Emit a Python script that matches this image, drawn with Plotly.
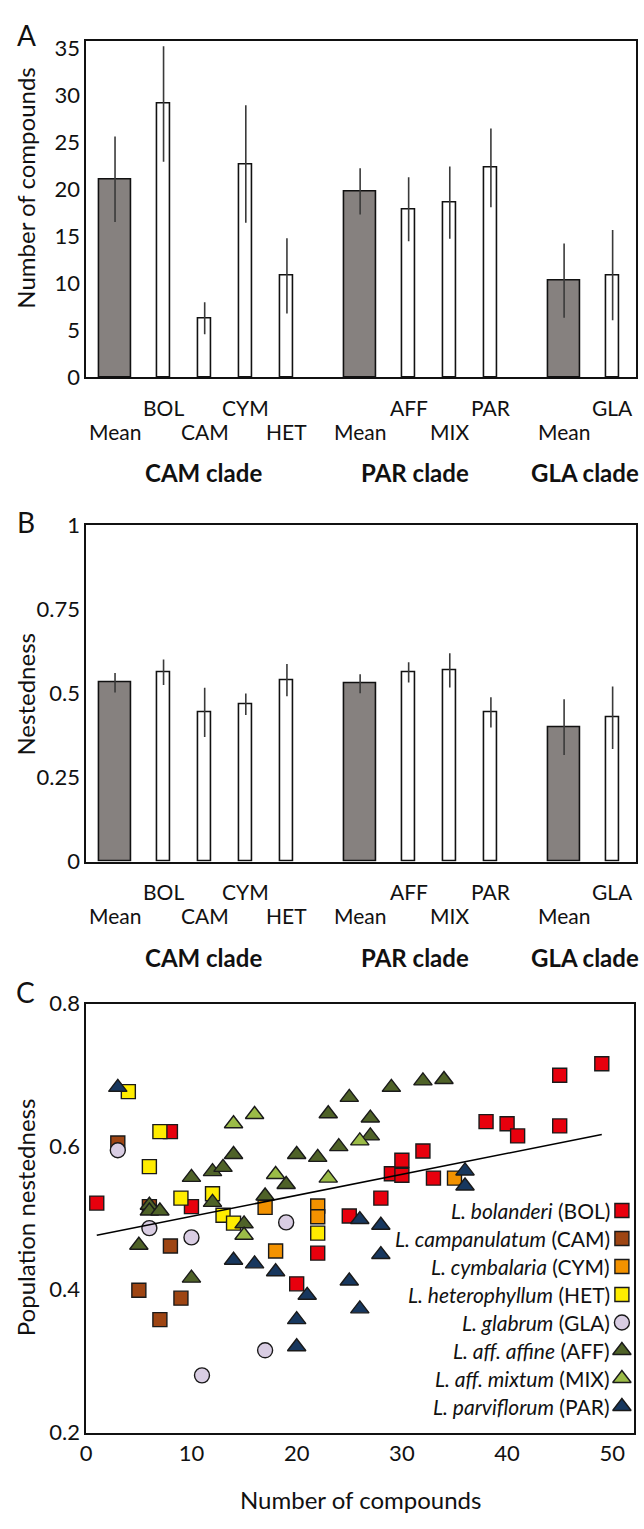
import plotly.graph_objects as go

# ---------------- data ----------------
bar_labels = ["Mean", "BOL", "CAM", "CYM", "HET", "Mean", "AFF", "MIX", "PAR", "Mean", "GLA"]
clade_names = ["CAM clade", "PAR clade", "GLA clade"]
clade_species = [["BOL", "CAM", "CYM", "HET"], ["AFF", "MIX", "PAR"], ["GLA"]]

compounds_mean = [21.1, 29.1, 6.3, 22.7, 10.8, 19.8, 17.9, 18.6, 22.3, 10.3, 10.9]
compounds_err = [4.55, 6.15, 1.7, 6.25, 4.0, 2.45, 3.4, 3.85, 4.2, 3.95, 4.8]
nested_mean = [0.532, 0.563, 0.444, 0.468, 0.540, 0.529, 0.563, 0.569, 0.444, 0.400, 0.428]
nested_err = [0.029, 0.038, 0.073, 0.032, 0.048, 0.028, 0.030, 0.051, 0.045, 0.083, 0.093]

bol_x = [1, 8, 10, 20, 22, 25, 28, 29, 30, 30, 32, 33, 38, 40, 41, 45, 45, 49]
bol_y = [0.521, 0.621, 0.516, 0.408, 0.451, 0.503, 0.528, 0.562, 0.581, 0.560, 0.594, 0.556,
         0.635, 0.632, 0.615, 0.629, 0.700, 0.716]
cam_x = [3, 6, 8, 5, 9, 7]
cam_y = [0.605, 0.516, 0.461, 0.399, 0.388, 0.358]
cym_x = [17, 22, 22, 18, 35]
cym_y = [0.515, 0.517, 0.502, 0.454, 0.556]
het_x = [4, 7, 6, 9, 12, 13, 14, 22]
het_y = [0.677, 0.621, 0.572, 0.528, 0.534, 0.504, 0.493, 0.479]
gla_x = [3, 6, 10, 19, 17, 11]
gla_y = [0.595, 0.486, 0.473, 0.494, 0.315, 0.280]
aff_x = [5, 6, 6, 7, 10, 10, 12, 12, 13, 14, 15, 17, 19, 20, 22, 23, 24, 25, 27, 27, 29, 32, 34]
aff_y = [0.462, 0.518, 0.510, 0.510, 0.557, 0.416, 0.565, 0.522, 0.571, 0.589, 0.492, 0.531,
         0.547, 0.589, 0.585, 0.646, 0.600, 0.669, 0.640, 0.615, 0.683, 0.692, 0.694]
mix_x = [14, 16, 18, 23, 26, 15]
mix_y = [0.632, 0.645, 0.561, 0.556, 0.608, 0.476]
par_x = [3, 14, 16, 18, 20, 20, 21, 25, 26, 26, 28, 28, 36, 36]
par_y = [0.683, 0.441, 0.436, 0.425, 0.358, 0.320, 0.392, 0.412, 0.498, 0.373, 0.490, 0.449,
         0.566, 0.545]
trend_x = [1, 49]
trend_y = [0.476, 0.617]

species_names = ["L. bolanderi", "L. campanulatum", "L. cymbalaria", "L. heterophyllum",
                 "L. glabrum", "L. aff. affine", "L. aff. mixtum", "L. parviflorum"]
species_codes = ["BOL", "CAM", "CYM", "HET", "GLA", "AFF", "MIX", "PAR"]

# ---------------- styling / layout ----------------
W, H = 644, 1529
FONT = "Lato"
colors = ["#E8000D", "#9E4513", "#F39200", "#FFEC00", "#D9CDE3", "#4F6228", "#9BBB47", "#17375E"]
symbols = ["square", "square", "square", "square", "circle", "triangle-up", "triangle-up", "triangle-up"]
msize = {"square": 14, "circle": 15, "triangle-up": 16}
GRAY = "#86817F"
TXT = "#111111"


def fy(y):
    return 1 - y / H


def fx(x):
    return x / W


# bar positions (layout only): means wider, species narrow
pos, widths, fills, rows = [], [], [], []
cur = 0.70
for sp in clade_species:
    pos.append(cur); widths.append(0.77); fills.append(GRAY); rows.append(1)
    cur += 1.18
    for k, _ in enumerate(sp):
        pos.append(cur); widths.append(0.32); fills.append("white"); rows.append(0 if k % 2 == 0 else 1)
        cur += 1
    cur += 0.78
clade_px = [199.7, 413, 584]

fig = go.Figure()

panels = [
    dict(vals=compounds_mean, errs=compounds_err, xa="x", ya="y", top=27, zero=370),
    dict(vals=nested_mean, errs=nested_err, xa="x2", ya="y2", top=520.5, zero=863),
]
for p in panels:
    fig.add_trace(go.Bar(
        x=pos, y=p["vals"], width=widths, xaxis=p["xa"], yaxis=p["ya"],
        marker=dict(color=fills, line=dict(color=TXT, width=1.6)),
        error_y=dict(type="data", array=p["errs"], visible=True, width=0, thickness=1.6, color="#3a3a3a"),
        showlegend=False, hoverinfo="skip",
    ))

# scatter panel C
all_x = [bol_x, cam_x, cym_x, het_x, gla_x, aff_x, mix_x, par_x]
all_y = [bol_y, cam_y, cym_y, het_y, gla_y, aff_y, mix_y, par_y]
for i in range(8):
    fig.add_trace(go.Scatter(
        x=all_x[i], y=all_y[i], mode="markers", xaxis="x3", yaxis="y3",
        marker=dict(symbol=symbols[i], size=msize[symbols[i]], color=colors[i],
                    line=dict(color="#1a1a1a", width=1.4)),
        showlegend=False, hoverinfo="skip",
    ))
fig.add_trace(go.Scatter(x=trend_x, y=trend_y, mode="lines", xaxis="x3", yaxis="y3",
                         line=dict(color="black", width=1.6), showlegend=False, hoverinfo="skip"))

# legend (drawn in a pixel-space overlay axis)
C_LEFT, C_RIGHT, C_TOP, C_BOT = 81, 634, 1007.5, 1444
leg_rows = [1218 + 28.5 * i for i in range(8)]
for i in range(8):
    fig.add_trace(go.Scatter(
        x=[621.7], y=[leg_rows[i]], mode="markers", xaxis="x4", yaxis="y4",
        marker=dict(symbol=symbols[i], size=msize[symbols[i]], color=colors[i],
                    line=dict(color="#1a1a1a", width=1.4)),
        showlegend=False, hoverinfo="skip",
    ))

annotations = []
for i in range(8):
    annotations.append(dict(
        x=612, y=leg_rows[i], xref="x4", yref="y4", xanchor="right", yanchor="middle",
        text=f"<i>{species_names[i]}</i> ({species_codes[i]})", showarrow=False,
        font=dict(family=FONT, size=21, color=TXT)))

# category + clade labels
for p in panels:
    for j, lab in enumerate(bar_labels):
        ypix = p["zero"] + (30.5 if rows[j] == 0 else 54.5)
        annotations.append(dict(x=pos[j], y=fy(ypix), xref=p["xa"], yref="paper",
                                xanchor="center", yanchor="middle", text=lab, showarrow=False,
                                font=dict(family=FONT, size=21, color=TXT)))
    for cname, cx in zip(clade_names, clade_px):
        annotations.append(dict(x=fx(cx), y=fy(p["zero"] + 97), xref="paper", yref="paper",
                                xanchor="center", yanchor="middle", text=f"<b>{cname}</b>",
                                showarrow=False, font=dict(family=FONT, size=24, color=TXT)))

# panel letters and axis titles
for letter, (lx, ly) in zip("ABC", [(21, 21), (20, 517), (20, 996)]):
    annotations.append(dict(x=fx(lx), y=fy(ly), xref="paper", yref="paper", xanchor="center",
                            yanchor="middle", text=letter, showarrow=False,
                            font=dict(family=FONT, size=28, color=TXT)))
for title, ty in [("Number of compounds", 177), ("Nestedness", 692), ("Population nestedness", 1225)]:
    annotations.append(dict(x=fx(20), y=fy(ty), xref="paper", yref="paper", xanchor="center",
                            yanchor="middle", text=title, textangle=-90, showarrow=False,
                            font=dict(family=FONT, size=24, color=TXT)))
annotations.append(dict(x=fx((C_LEFT + C_RIGHT) / 2), y=fy(1512), xref="paper", yref="paper",
                        xanchor="center", yanchor="middle", text="Number of compounds",
                        showarrow=False, font=dict(family=FONT, size=24, color=TXT)))

axis_common = dict(showline=True, linecolor=TXT, linewidth=1.6, mirror=True,
                   showgrid=False, zeroline=False, ticks="", tickfont=dict(family=FONT, size=22, color=TXT))

xr = [0, 13.37]
fig.update_layout(
    width=W, height=H, margin=dict(l=0, r=0, t=0, b=0),
    paper_bgcolor="white", plot_bgcolor="white", bargap=0,
    annotations=annotations,
    xaxis=dict(domain=[fx(81), fx(636)], range=xr, showticklabels=False, anchor="y", **axis_common),
    yaxis=dict(domain=[fy(370), fy(27)], range=[0, 35.85], tickvals=[0, 5, 10, 15, 20, 25, 30, 35],
               anchor="x", **axis_common),
    xaxis2=dict(domain=[fx(81), fx(636)], range=xr, showticklabels=False, anchor="y2", **axis_common),
    yaxis2=dict(domain=[fy(863), fy(520.5)], range=[0, 1], tickvals=[0, 0.25, 0.5, 0.75, 1],
                ticktext=["0", "0.25", "0.5", "0.75", "1"], anchor="x2", **axis_common),
    xaxis3=dict(domain=[fx(C_LEFT), fx(C_RIGHT)], range=[0, 52.07], tickvals=[0, 10, 20, 30, 40, 50],
                anchor="y3", **axis_common),
    yaxis3=dict(domain=[fy(C_BOT), fy(C_TOP)], range=[0.2, 0.8], tickvals=[0.2, 0.4, 0.6, 0.8],
                ticktext=["0.2", "0.4", "0.6", "0.8"], anchor="x3", **axis_common),
    xaxis4=dict(domain=[fx(C_LEFT), fx(C_RIGHT)], range=[C_LEFT, C_RIGHT], visible=False,
                overlaying="x3", anchor="y4"),
    yaxis4=dict(domain=[fy(C_BOT), fy(C_TOP)], range=[C_BOT, C_TOP], visible=False,
                overlaying="y3", anchor="x4"),
)

fig.write_html("out.html", config={"displayModeBar": False},
               post_script="document.body.style.margin='0';document.body.style.overflow='hidden';")
